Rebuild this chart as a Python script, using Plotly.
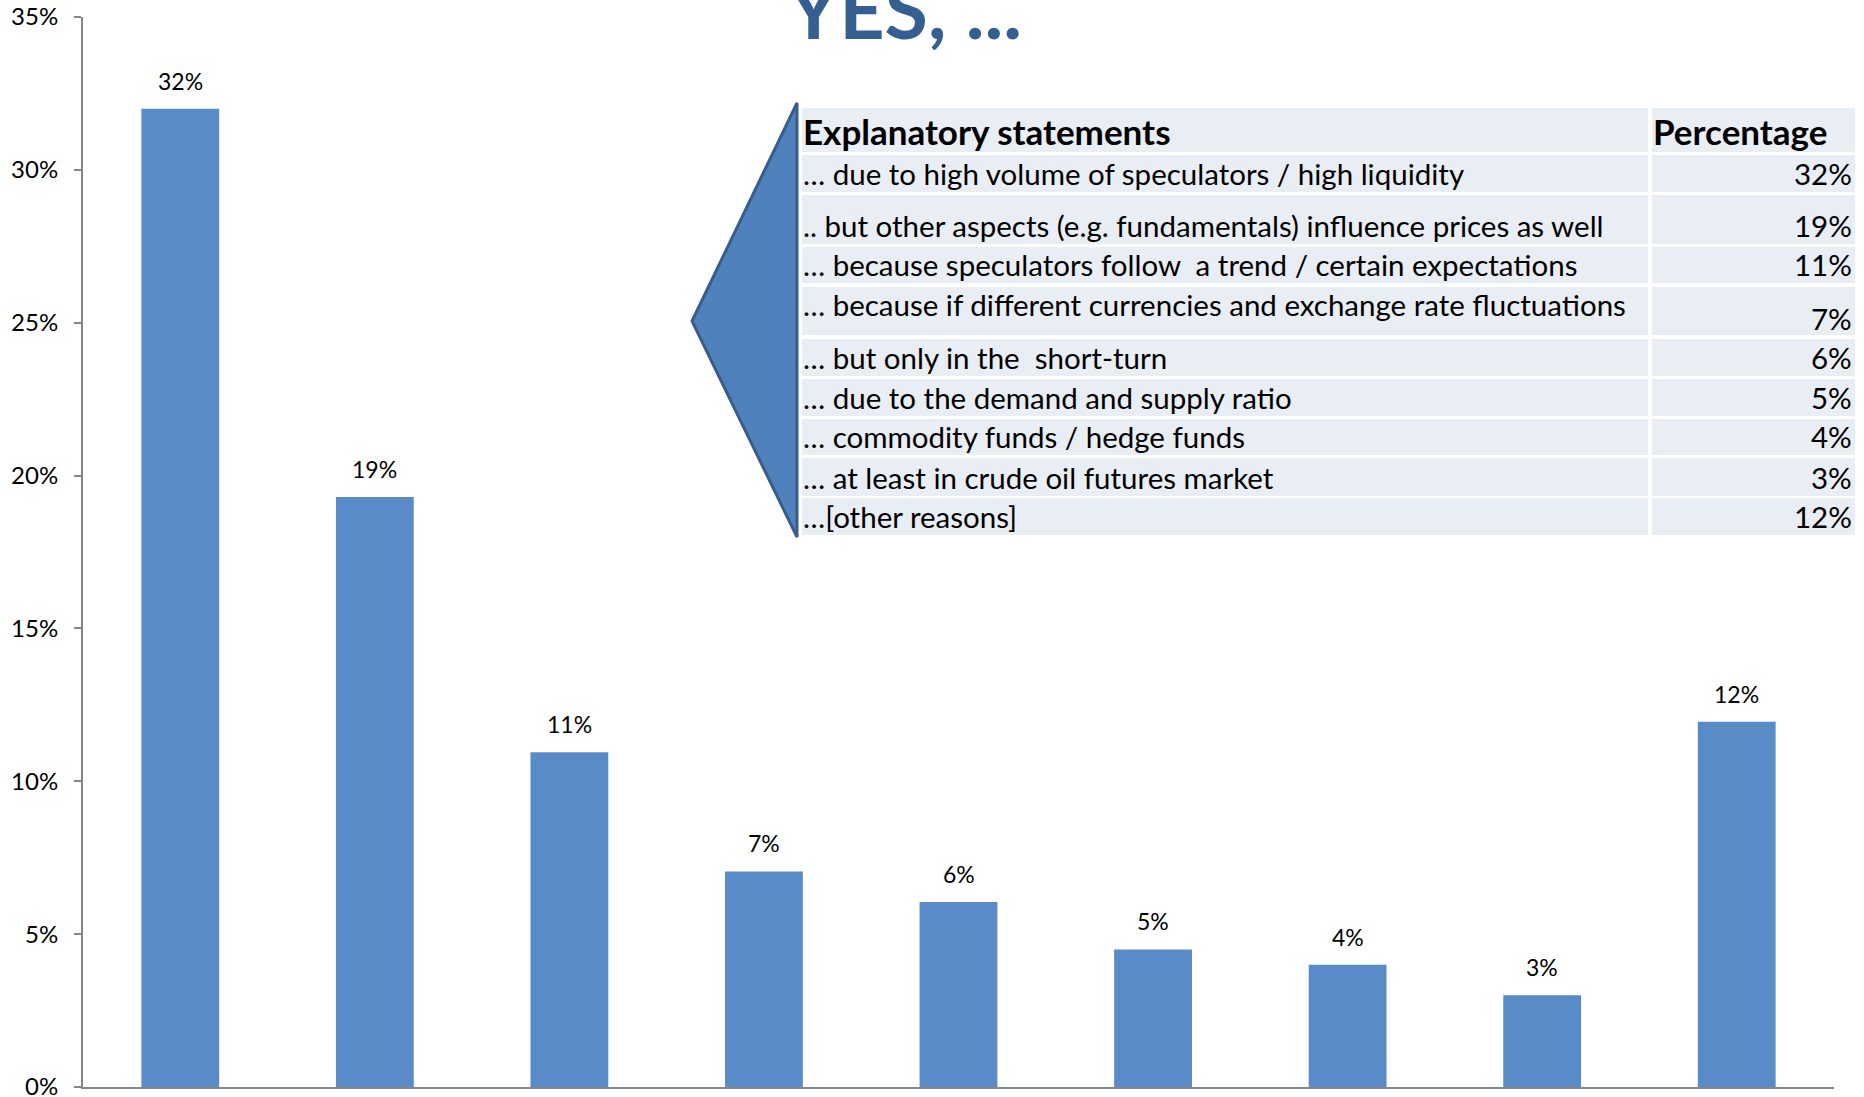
import plotly.graph_objects as go

# ---------------- data ----------------
categories = [
    "… due to high volume of speculators / high liquidity",
    ".. but other aspects (e.g. fundamentals) influence prices as well",
    "… because speculators follow  a trend / certain expectations",
    "… because if different currencies and exchange rate fluctuations",
    "… but only in the  short-turn",
    "… due to the demand and supply ratio",
    "… commodity funds / hedge funds",
    "… at least in crude oil futures market",
    "…[other reasons]",
]
values = [32.0, 19.3, 10.95, 7.05, 6.05, 4.5, 4.0, 3.0, 11.95]
value_labels = ["32%", "19%", "11%", "7%", "6%", "5%", "4%", "3%", "12%"]
y_tick_vals = [0, 5, 10, 15, 20, 25, 30, 35]
y_tick_text = ["0%", "5%", "10%", "15%", "20%", "25%", "30%", "35%"]
table_headers = ["Explanatory statements", "Percentage"]
title_text = "YES, ..."

# ---------------- layout constants (pixels) ----------------
W, H = 1864, 1097
ML, MR, MT, MB = 83, 30, 17, 10
PW, PH = W - ML - MR, H - MT - MB

def xp(x):
    return (x - ML) / PW

def yp(y):
    return (H - MB - y) / PH

FONT = "Lato"
BAR_COLOR = "#598BC8"
AXIS_COLOR = "#868686"
CELL_BG = "#E9EDF4"

fig = go.Figure()
fig.add_trace(go.Bar(
    x=categories, y=values,
    marker=dict(color=BAR_COLOR, line=dict(width=0)),
    width=0.4, hoverinfo="skip", showlegend=False,
))

annotations = []
for c, v, t in zip(categories, values, value_labels):
    annotations.append(dict(
        x=c, y=v, xref="x", yref="y", text=t, showarrow=False,
        yanchor="bottom", xanchor="center", yshift=12,
        font=dict(family=FONT, size=23, color="#000000"),
    ))

# title
annotations.append(dict(
    x=xp(904), y=yp(58), xref="paper", yref="paper", text="<b>" + title_text + "</b>",
    showarrow=False, xanchor="center", yanchor="bottom",
    font=dict(family=FONT, size=79, color="#365F91"),
))

shapes = []
# arrow / callout
shapes.append(dict(
    type="path", xref="paper", yref="paper",
    path="M {} {} L {} {} L {} {} Z".format(xp(797), yp(103), xp(692), yp(321), xp(797), yp(537)),
    fillcolor="#4F81BD", line=dict(color="#385D8A", width=3), layer="above",
))

# table rows (top, bottom) in pixels
row_bounds = [(108, 152), (155, 192), (195, 244), (247, 283), (287, 335),
              (339, 376), (379, 416), (419, 455), (458, 496), (498, 535)]
col1 = (802, 1648)
col2 = (1652, 1855)
for (t, b) in row_bounds:
    for (l, r) in (col1, col2):
        shapes.append(dict(type="rect", xref="paper", yref="paper",
                           x0=xp(l), x1=xp(r), y0=yp(b), y1=yp(t),
                           fillcolor=CELL_BG, line=dict(width=0), layer="above"))

# header
hdr_t, hdr_b = row_bounds[0]
annotations.append(dict(x=xp(801), y=yp(hdr_b + 2), xref="paper", yref="paper",
                        text="<b>" + table_headers[0] + "</b>", showarrow=False,
                        xanchor="left", yanchor="bottom",
                        font=dict(family=FONT, size=35, color="#000000")))
annotations.append(dict(x=xp(1651), y=yp(hdr_b + 2), xref="paper", yref="paper",
                        text="<b>" + table_headers[1] + "</b>", showarrow=False,
                        xanchor="left", yanchor="bottom",
                        font=dict(family=FONT, size=35, color="#000000")))

# body rows: description offset from the row bottom
desc_off = [2, 2, 2, 14, 2, 2, 2, 2, 2]
for i, (c, lab) in enumerate(zip(categories, value_labels)):
    t, b = row_bounds[i + 1]
    annotations.append(dict(x=xp(801), y=yp(b - desc_off[i] + 3), xref="paper", yref="paper",
                            text=c, showarrow=False, xanchor="left", yanchor="bottom",
                            font=dict(family=FONT, size=29.5, color="#000000")))
    voff = 0 if i == 3 else 2
    annotations.append(dict(x=xp(1854), y=yp(b - voff + 3), xref="paper", yref="paper",
                            text=lab, showarrow=False, xanchor="right", yanchor="bottom",
                            font=dict(family=FONT, size=29.5, color="#000000")))

fig.update_layout(
    width=W, height=H,
    margin=dict(l=ML, r=MR, t=MT, b=MB, pad=0, autoexpand=False),
    paper_bgcolor="white", plot_bgcolor="white",
    bargap=0.6,
    showlegend=False,
    xaxis=dict(showticklabels=False, ticks="", showgrid=False, zeroline=False,
               showline=True, linecolor=AXIS_COLOR, linewidth=2, automargin=False),
    yaxis=dict(range=[0, 35], tickvals=y_tick_vals, ticktext=y_tick_text,
               ticks="outside", ticklen=7, tickwidth=2, tickcolor=AXIS_COLOR,
               showgrid=False, zeroline=False, showline=True, automargin=False,
               ticklabeloverflow="allow",
               linecolor=AXIS_COLOR, linewidth=2, ticklabelstandoff=11,
               tickfont=dict(family=FONT, size=24, color="#000000")),
    annotations=annotations,
    shapes=shapes,
)

fig.write_html("out.html", config={"displayModeBar": False},
               post_script="document.body.style.margin='0';document.body.style.overflow='hidden';")
